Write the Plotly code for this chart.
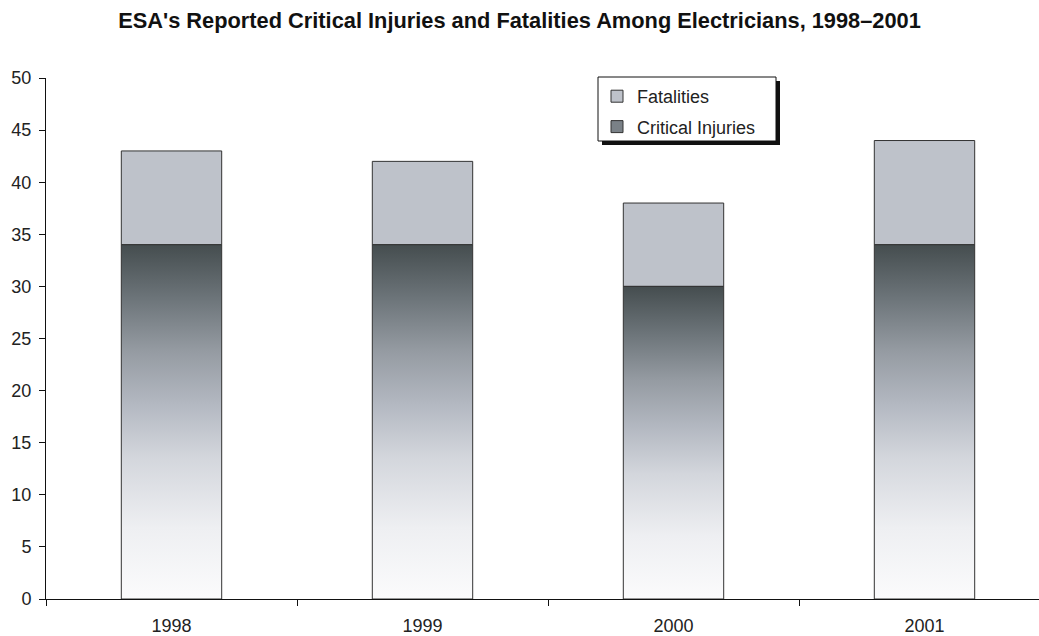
import plotly.graph_objects as go

# Data
years = ["1998", "1999", "2000", "2001"]
critical_injuries = [34, 34, 30, 34]
fatalities = [9, 8, 8, 10]

title_text = "ESA's Reported Critical Injuries and Fatalities Among Electricians, 1998\u20132001"

W, H = 1039, 636
ML, MR, MT, MB = 46, 0, 78, 37
BAR_W = 0.4
xpos = list(range(len(years)))

FAT_COLOR = "#bec2ca"
EDGE = "#333333"

# gradient for the critical-injuries segment (bottom -> top)
grad = [
    [0.0, "#fbfbfc"],
    [0.2, "#eeeff2"],
    [0.4, "#d3d6dc"],
    [0.55, "#b3b8c1"],
    [0.7, "#959ba2"],
    [0.85, "#6c7479"],
    [1.0, "#454d4f"],
]

fig = go.Figure()

# Fatalities stacked on top of injuries
fig.add_trace(go.Bar(
    x=xpos, y=fatalities, base=critical_injuries, width=BAR_W,
    name="Fatalities", legendgroup="fat",
    marker=dict(color=FAT_COLOR, line=dict(color=EDGE, width=1)),
    hoverinfo="skip",
))

# zero-height bar that carries the legend swatch for the gradient series
fig.add_trace(go.Bar(
    x=[xpos[0]], y=[0], width=BAR_W, name="Critical Injuries", legendgroup="inj",
    marker=dict(color="#7a8187", line=dict(color=EDGE, width=1)),
    hoverinfo="skip",
))

# Critical injuries as filled polygons with a vertical gradient
for xp, v in zip(xpos, critical_injuries):
    x0, x1 = xp - BAR_W / 2, xp + BAR_W / 2
    fig.add_trace(go.Scatter(
        x=[x0, x1, x1, x0, x0], y=[0, 0, v, v, 0],
        mode="lines", fill="toself",
        fillgradient=dict(type="vertical", colorscale=grad, start=0, stop=v),
        line=dict(color=EDGE, width=1),
        legendgroup="inj", showlegend=False,
        hoverinfo="skip",
    ))

plot_w = W - ML - MR
plot_h = H - MT - MB
# the category grid is 251 px wide; the visible axis stops at the window edge
cat_px = 251.0
x_lo = -0.5
x_hi = x_lo + plot_w / cat_px


def px_to_paper_x(px):
    return (px - ML) / plot_w


def px_to_paper_y(py):
    return (H - MB - py) / plot_h


# legend frame with drop shadow
LX0, LX1, LY0, LY1 = 598, 776, 77, 141
fig.add_shape(
    type="rect", xref="paper", yref="paper",
    x0=px_to_paper_x(LX0 + 4), x1=px_to_paper_x(LX1 + 4),
    y0=px_to_paper_y(LY1 + 4), y1=px_to_paper_y(LY0 + 4),
    fillcolor="#111111", line=dict(width=0), layer="above",
)
fig.add_shape(
    type="rect", xref="paper", yref="paper",
    x0=px_to_paper_x(LX0), x1=px_to_paper_x(LX1),
    y0=px_to_paper_y(LY1), y1=px_to_paper_y(LY0),
    fillcolor="white", line=dict(color="#111111", width=1), layer="above",
)

fig.update_layout(
    width=W, height=H,
    margin=dict(l=ML, r=MR, t=MT, b=MB, pad=0),
    paper_bgcolor="white", plot_bgcolor="white",
    font=dict(family="Liberation Sans, Arial, sans-serif", size=18, color="#222222"),
    title=dict(text="<b>" + title_text + "</b>", x=0.5, xanchor="center",
               y=1 - 20 / H, yanchor="middle",
               font=dict(size=21.8, color="#111111")),
    barmode="overlay",
    showlegend=True,
    legend=dict(
        x=px_to_paper_x(597), y=px_to_paper_y(78), xanchor="left", yanchor="top",
        bgcolor="rgba(0,0,0,0)", borderwidth=0,
        traceorder="grouped", tracegroupgap=4,
        font=dict(size=18, color="#222222"),
    ),
    xaxis=dict(
        range=[x_lo, x_hi], tickvals=xpos, ticktext=years,
        ticks="", showgrid=False, zeroline=False,
        showline=True, linecolor="#111111", linewidth=1,
        tickfont=dict(size=18), ticklabelstandoff=10,
        minor=dict(tickvals=[-0.5, 0.5, 1.5, 2.5, 3.5], ticks="outside",
                   ticklen=6, tickcolor="#111111", tickwidth=1, showgrid=False),
    ),
    yaxis=dict(
        range=[0, 50], dtick=5, ticks="outside", ticklen=6, tickcolor="#111111",
        showgrid=False, zeroline=False,
        showline=True, linecolor="#111111", linewidth=1,
        tickfont=dict(size=18), ticklabelstandoff=4,
    ),
)

fig.write_html("out.html")
